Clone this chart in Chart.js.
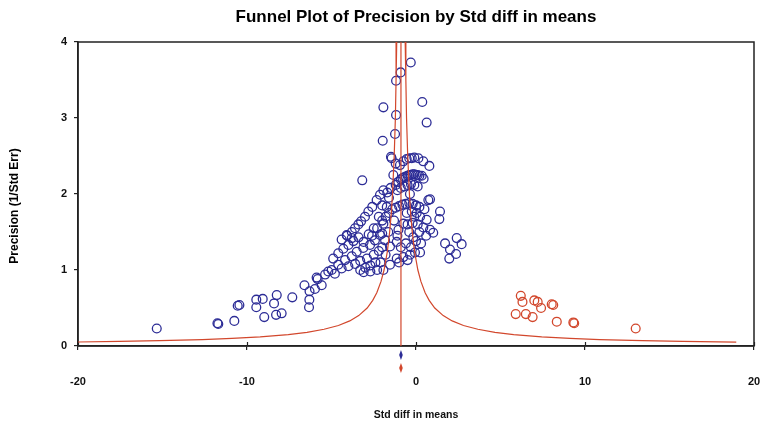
<!DOCTYPE html>
<html>
<head>
<meta charset="utf-8">
<script src="https://cdn.jsdelivr.net/npm/chart.js@4.4.1/dist/chart.umd.min.js"></script>
<style>
    html, body { margin: 0; background: #fff; }
</style>
</head>
<body>
<canvas id="funnelPlot" width="764" height="429"></canvas>
<script>
const PLOT_TITLE = 'Funnel Plot of Precision by Std diff in means';
const X_TITLE = 'Std diff in means';
const Y_TITLE = 'Precision (1/Std Err)';

const xTicks = [-20, -10, 0, 10, 20];
const yTicks = [0, 1, 2, 3, 4];

// observed studies [std diff, precision]
const observedStudies = [
    [-15.34,0.23],[-11.75,0.30],[-11.70,0.29],[-10.75,0.33],[-10.55,0.53],[-10.45,0.54],
    [-9.45,0.61],[-9.45,0.51],[-9.07,0.62],[-8.98,0.38],[-8.24,0.67],[-8.40,0.56],
    [-8.28,0.41],[-7.95,0.43],[-7.32,0.64],[-6.60,0.80],[-6.30,0.72],[-6.31,0.61],
    [-6.33,0.51],[-5.82,0.88],[-5.98,0.75],[-5.58,0.80],[-5.38,0.94],[-5.19,0.98],
    [-5.88,0.90],[-4.99,1.00],[-4.60,1.07],[-4.20,1.13],[-3.80,1.18],[-3.51,1.24],
    [-3.12,1.29],[-2.72,1.33],[-2.43,1.39],[-2.13,1.46],
    [-4.80,0.95],[-4.40,1.02],[-4.00,1.05],[-3.60,1.08],[-3.30,1.00],[-3.00,1.03],
    [-2.70,1.06],[-2.40,1.10],[-2.10,1.10],
    [-4.90,1.15],[-4.60,1.22],[-4.30,1.28],[-4.00,1.33],[-3.70,1.38],[-3.40,1.43],
    [-3.10,1.37],[-2.80,1.47],[-2.50,1.55],[-4.40,1.40],[-4.10,1.46],
    [-4.08,1.45],[-3.80,1.42],[-3.80,1.50],[-3.61,1.55],[-3.41,1.60],[-3.25,1.64],
    [-3.02,1.70],[-2.82,1.77],[-2.59,1.83],[-2.33,1.92],[-2.13,1.99],[-1.93,2.05],
    [-3.18,2.18],
    [-1.48,2.49],[-1.44,2.47],[-1.20,2.40],[-0.95,2.38],[-0.75,2.43],[-0.55,2.46],
    [-0.40,2.47],[-0.25,2.47],[-0.10,2.48],[0.14,2.47],[0.43,2.43],[0.79,2.37],
    [-1.34,2.25],[-1.20,2.12],[-1.05,2.16],[-0.90,2.19],[-0.80,2.21],[-0.70,2.22],
    [-0.60,2.23],[-0.50,2.24],[-0.40,2.25],[-0.30,2.25],[-0.20,2.26],[-0.10,2.26],
    [0.00,2.25],[0.10,2.25],[0.20,2.24],[0.34,2.24],[0.45,2.20],[-1.50,2.08],
    [-1.70,2.02],[-1.10,2.05],[-0.90,2.08],[-0.70,2.10],[-0.50,2.12],[-0.30,2.13],
    [-0.10,2.12],[0.10,2.10],[-0.36,2.00],[0.73,1.92],[0.83,1.93],
    [-2.00,1.65],[-1.80,1.70],[-1.60,1.75],[-1.40,1.80],[-1.20,1.82],[-1.00,1.84],
    [-0.80,1.86],[-0.60,1.87],[-0.40,1.88],[-0.20,1.87],[0.00,1.85],[0.20,1.83],
    [-0.55,1.75],[-0.25,1.77],[0.04,1.75],[0.24,1.70],[-1.73,1.83],
    [-1.93,1.61],[-1.64,1.50],[-1.83,1.39],[-1.54,1.31],[-1.14,1.37],[-1.04,1.53],
    [-0.75,1.61],[-0.50,1.60],[-0.20,1.62],[0.10,1.60],[0.43,1.56],[0.63,1.66],
    [0.83,1.53],[1.02,1.49],[-0.16,1.43],[-0.40,1.50],[0.20,1.50],
    [-1.93,1.00],[-1.54,1.07],[-1.14,1.15],[-0.75,1.17],[-0.36,1.20],[-0.06,1.23],
    [0.24,1.23],[-2.30,1.00],[-2.70,0.98],[-3.10,0.97],[-1.00,1.10],[-0.50,1.13],
    [1.42,1.77],[1.38,1.67],[1.72,1.35],[2.41,1.42],[2.70,1.34],[2.01,1.27],
    [2.37,1.21],[1.97,1.15],
    [-0.31,3.73],[-0.91,3.60],[-1.18,3.49],[-1.93,3.14],[0.37,3.21],[-1.18,3.04],
    [0.63,2.94],[-1.24,2.79],[-1.97,2.70],
    [-2.50,1.20],[-2.20,1.25],[-2.00,1.30],[-2.60,1.45],[-2.30,1.55],[-2.00,1.48],
    [-1.80,1.20],[-2.90,1.15],[-3.30,1.12],[-2.20,1.70],[-2.00,1.85],[-1.60,1.95],
    [-1.30,1.65],[-1.10,1.45],[-0.90,1.30],[-0.60,1.35],[-0.30,1.30],[0.00,1.38],
    [0.30,1.35],[-0.10,1.70],[0.50,1.80],[0.60,1.45]
];

// imputed studies (trim and fill)
const imputedStudies = [
    [5.90,0.42],[6.20,0.66],[6.30,0.58],[6.50,0.42],[6.90,0.38],[7.00,0.60],
    [7.20,0.58],[7.40,0.50],[8.03,0.55],[8.12,0.54],[8.33,0.32],[9.31,0.31],
    [9.36,0.30],[13.00,0.23]
];

// funnel limits
const funnelPrecision = [4, 3.5, 3, 2.5, 2, 1.75, 1.5, 1.25, 1, 0.85, 0.7, 0.6, 0.5,
    0.4, 0.33, 0.27, 0.22, 0.18, 0.15, 0.12, 0.1, 0.085, 0.07, 0.06, 0.052];
const funnelLeft = [-1.14, -1.18, -1.22, -1.29, -1.39, -1.46, -1.56, -1.69, -1.89, -2.07,
    -2.32, -2.56, -2.89, -3.39, -3.92, -4.59, -5.44, -6.45, -7.56, -9.22, -10.89,
    -12.65, -15.18, -17.56, -20.12];
const funnelRight = [-0.64, -0.60, -0.56, -0.49, -0.39, -0.32, -0.22, -0.09, 0.11, 0.29,
    0.54, 0.78, 1.11, 1.61, 2.14, 2.81, 3.66, 4.67, 5.78, 7.44, 9.11, 10.87, 13.40,
    15.78, 18.95];

const meanEffect = -0.89;          // combined std diff (observed and adjusted)

const BLUE = '#2c2c96';
const RED = '#d2472c';
const FONT = '"Liberation Sans", Arial, sans-serif';

function toPoints(rows) {
    return rows.map(r => ({ x: r[0], y: r[1] }));
}

// frame, title, y title, inner tick marks and the two mean diamonds under the axis
const decorPlugin = {
    id: 'decor',
    beforeDatasetsDraw(chart) {
        const { ctx, chartArea: a } = chart;
        const xs = chart.scales.x;
        ctx.save();
        ctx.strokeStyle = '#222';
        ctx.lineWidth = 1.5;
        ctx.strokeRect(a.left, a.top, a.right - a.left, a.bottom - a.top);

        // x ticks poke a little into the plot too
        ctx.lineWidth = 1.2;
        xTicks.forEach(v => {
            const px = Math.round(xs.getPixelForValue(v)) + 0.5;
            ctx.beginPath();
            ctx.moveTo(px, a.bottom);
            ctx.lineTo(px, a.bottom - 4);
            ctx.stroke();
        });

        ctx.fillStyle = '#000';
        ctx.textAlign = 'center';
        ctx.textBaseline = 'middle';
        ctx.font = 'bold 17px ' + FONT;
        ctx.fillText(PLOT_TITLE, (a.left + a.right) / 2, 17);

        ctx.font = 'bold 12px ' + FONT;
        ctx.translate(15, (a.top + a.bottom) / 2 + 12);
        ctx.rotate(-Math.PI / 2);
        ctx.fillText(Y_TITLE, 0, 0);
        ctx.restore();

        // diamonds for the combined effect (observed blue, adjusted red)
        const px = xs.getPixelForValue(meanEffect);
        [[BLUE, a.bottom + 9], [RED, a.bottom + 22]].forEach(([col, cy]) => {
            ctx.save();
            ctx.fillStyle = col;
            ctx.beginPath();
            ctx.moveTo(px, cy - 5);
            ctx.lineTo(px + 1.8, cy);
            ctx.lineTo(px, cy + 5);
            ctx.lineTo(px - 1.8, cy);
            ctx.closePath();
            ctx.fill();
            ctx.restore();
        });
    }
};

const ctx = document.getElementById('funnelPlot').getContext('2d');
new Chart(ctx, {
    type: 'scatter',
    data: {
        datasets: [
            {
                label: 'Funnel left',
                data: funnelPrecision.map((p, i) => ({ x: funnelLeft[i], y: p })),
                showLine: true, pointRadius: 0, borderColor: RED, borderWidth: 1.2
            },
            {
                label: 'Funnel right',
                data: funnelPrecision.map((p, i) => ({ x: funnelRight[i], y: p })),
                showLine: true, pointRadius: 0, borderColor: RED, borderWidth: 1.2
            },
            {
                label: 'Mean line',
                data: [{ x: meanEffect, y: 0 }, { x: meanEffect, y: 4 }],
                showLine: true, pointRadius: 0, borderColor: RED, borderWidth: 1.2
            },
            {
                label: 'Observed',
                data: toPoints(observedStudies),
                pointRadius: 4.4, pointBorderWidth: 1.3,
                borderColor: BLUE, backgroundColor: 'rgba(0,0,0,0)'
            },
            {
                label: 'Imputed',
                data: toPoints(imputedStudies),
                pointRadius: 4.4, pointBorderWidth: 1.3,
                borderColor: RED, backgroundColor: 'rgba(0,0,0,0)'
            }
        ]
    },
    options: {
        responsive: false,
        animation: false,
        layout: { padding: { top: 42, right: 10, left: 0, bottom: 0 } },
        plugins: {
            legend: { display: false },
            tooltip: { enabled: false },
            title: { display: false }
        },
        scales: {
            x: {
                type: 'linear',
                min: xTicks[0], max: xTicks[xTicks.length - 1],
                afterBuildTicks: s => { s.ticks = xTicks.map(v => ({ value: v })); },
                afterFit: s => { s.height = 83; s.paddingLeft = 0; s.paddingRight = 0; },
                grid: { drawOnChartArea: false, tickLength: 4, color: '#222', lineWidth: 1.2 },
                border: { color: '#222', width: 1.5 },
                ticks: {
                    padding: 25, color: '#111', maxRotation: 0,
                    font: { family: FONT, size: 11, weight: 'bold' }
                },
                title: {
                    display: true, text: X_TITLE, color: '#111',
                    padding: { top: 0, bottom: 8 },
                    font: { family: FONT, size: 10.5, weight: 'bold' }
                }
            },
            y: {
                type: 'linear',
                min: yTicks[0], max: yTicks[yTicks.length - 1],
                afterBuildTicks: s => { s.ticks = yTicks.map(v => ({ value: v })); },
                afterFit: s => { s.width = 78; },
                grid: { drawOnChartArea: false, tickLength: 4, color: '#222', lineWidth: 1.2 },
                border: { color: '#222', width: 1.5 },
                ticks: {
                    padding: 7, color: '#111',
                    font: { family: FONT, size: 11, weight: 'bold' }
                }
            }
        }
    },
    plugins: [decorPlugin]
});
</script>
</body>
</html>
